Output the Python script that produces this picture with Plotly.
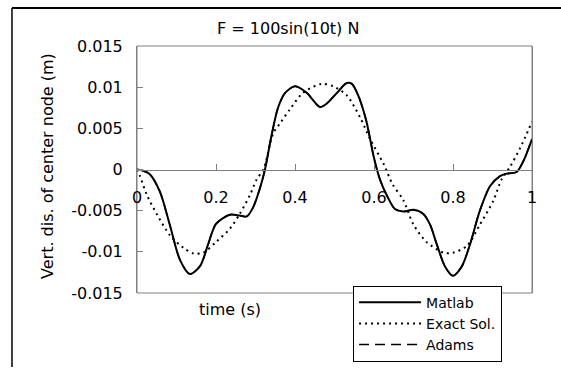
import plotly.graph_objects as go

# ---- data ----
matlab_t = [0, 0.012, 0.033, 0.058, 0.0835, 0.109, 0.134, 0.16, 0.18, 0.20, 0.235, 0.26, 0.278,
            0.294, 0.311, 0.324, 0.34, 0.357, 0.375, 0.40, 0.43, 0.463, 0.48, 0.506, 0.531, 0.544,
            0.56, 0.58, 0.60, 0.615, 0.632, 0.653, 0.674, 0.70, 0.725, 0.742, 0.759, 0.78, 0.80,
            0.822, 0.843, 0.868, 0.894, 0.919, 0.936, 0.961, 0.978, 1.0]
matlab_y = [0, -0.0001, -0.0006, -0.0027, -0.0068, -0.0110, -0.0127, -0.0117, -0.0091, -0.0066,
            -0.0055, -0.0056, -0.0057, -0.0046, -0.0023, 0.0, 0.0040, 0.0075, 0.0093, 0.0101,
            0.0093, 0.0076, 0.0080, 0.0093, 0.0105, 0.0104, 0.0090, 0.0060, 0.0014, -0.0012,
            -0.0031, -0.0048, -0.0051, -0.0049, -0.0054, -0.0067, -0.0091, -0.0118, -0.0129,
            -0.0118, -0.0091, -0.0050, -0.0020, -0.0008, -0.0005, -0.0003, 0.0010, 0.0037]

exact_t = [0, 0.0076, 0.025, 0.05, 0.0835, 0.117, 0.143, 0.168, 0.20, 0.235, 0.26, 0.286, 0.303,
           0.32, 0.345, 0.362, 0.387, 0.42, 0.467, 0.497, 0.531, 0.565, 0.59, 0.624, 0.647, 0.674,
           0.70, 0.733, 0.776, 0.80, 0.835, 0.868, 0.902, 0.923, 0.944, 0.97, 1.0]
exact_y = [0, -0.0008, -0.0031, -0.0054, -0.0080, -0.0095, -0.0102, -0.0101, -0.0088, -0.0072,
           -0.0054, -0.0031, -0.0012, 0.0, 0.0044, 0.0056, 0.0073, 0.0093, 0.0104, 0.0101, 0.0090,
           0.0063, 0.0037, 0.0007, -0.0018, -0.0037, -0.0067, -0.0088, -0.0101, -0.0101, -0.0093,
           -0.0067, -0.0038, -0.0012, 0.0003, 0.0026, 0.0058]

adams_t = list(matlab_t)
adams_y = list(matlab_y)

series_names = ["Matlab", "Exact Sol.", "Adams"]

x_tickvals = [0, 0.2, 0.4, 0.6, 0.8, 1]
x_ticktext = ["0", "0.2", "0.4", "0.6", "0.8", "1"]
y_tickvals = [0.015, 0.01, 0.005, 0, -0.005, -0.01, -0.015]
y_ticktext = ["0.015", "0.01", "0.005", "0", "-0.005", "-0.01", "-0.015"]

title_text = "F = 100sin(10t) N"
x_title = "time (s)"
y_title = "Vert. dis. of center node (m)"

FONT = "DejaVu Sans"
FS = 16
GREY = "#808080"

fig = go.Figure()
fig.add_trace(go.Scatter(x=matlab_t, y=matlab_y, name=series_names[0], mode="lines",
                         line=dict(color="black", width=2, shape="spline", smoothing=0.8)))
fig.add_trace(go.Scatter(x=exact_t, y=exact_y, name=series_names[1], mode="lines",
                         line=dict(color="black", width=2, dash="2px,4px", shape="spline", smoothing=0.8)))
fig.add_trace(go.Scatter(x=adams_t, y=adams_y, name=series_names[2], mode="lines",
                         line=dict(color="black", width=1.5, dash="10px,6px", shape="spline", smoothing=0.8)))

fig.update_layout(
    width=561, height=374,
    margin=dict(l=137, r=29, t=46, b=62, pad=0),
    paper_bgcolor="white", plot_bgcolor="white",
    font=dict(family=FONT, size=FS, color="black"),
    showlegend=True,
    legend=dict(x=0.547, y=0.03, xanchor="left", yanchor="top",
                bgcolor="white", bordercolor="black", borderwidth=1,
                font=dict(family=FONT, size=14, color="black"),
                itemwidth=62, tracegroupgap=0),
    xaxis=dict(range=[0, 1], tickvals=x_tickvals, ticktext=x_ticktext,
               anchor="free", position=0.5, showline=True, linecolor=GREY, linewidth=1,
               ticks="inside", ticklen=6, tickcolor=GREY, tickwidth=1,
               showgrid=False, zeroline=False, ticklabelstandoff=13,
               tickfont=dict(family=FONT, size=FS, color="black")),
    yaxis=dict(range=[-0.015, 0.015], tickvals=y_tickvals, ticktext=y_ticktext,
               showline=True, linecolor=GREY, linewidth=1, mirror=True,
               ticks="inside", ticklen=6, tickcolor=GREY, tickwidth=1,
               showgrid=False, zeroline=False, ticklabelstandoff=10,
               tickfont=dict(family=FONT, size=FS, color="black")),
    shapes=[
        dict(type="rect", xref="paper", yref="paper", x0=0, x1=1, y0=0, y1=1,
             line=dict(color=GREY, width=1), layer="below"),
        dict(type="line", xref="paper", yref="paper", x0=-0.3165, x1=1.2, y0=1.154, y1=1.154,
             line=dict(color="black", width=2)),
        dict(type="line", xref="paper", yref="paper", x0=-0.3165, x1=-0.3165, y0=1.154, y1=-0.3,
             line=dict(color="black", width=1.5)),
    ],
    annotations=[
        dict(text=title_text, xref="paper", yref="paper", x=0.382, y=1.0714,
             xanchor="center", yanchor="middle", showarrow=False,
             font=dict(family=FONT, size=FS, color="black")),
        dict(text=x_title, xref="paper", yref="paper", x=0.2354, y=-0.0677,
             xanchor="center", yanchor="middle", showarrow=False,
             font=dict(family=FONT, size=FS, color="black")),
        dict(text=y_title, xref="paper", yref="paper", x=-0.228, y=0.514, textangle=-90,
             xanchor="center", yanchor="middle", showarrow=False,
             font=dict(family=FONT, size=FS, color="black")),
    ],
)

fig.write_html("out.html")
